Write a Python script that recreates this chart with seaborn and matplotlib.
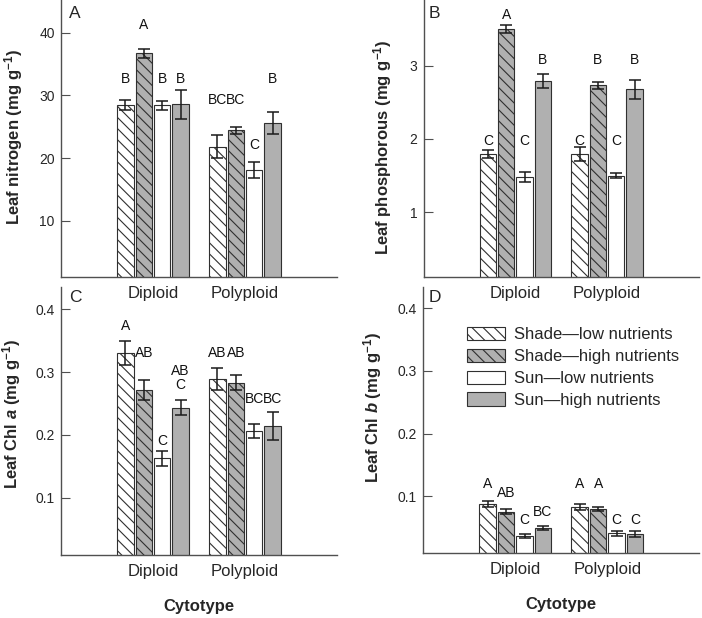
import numpy as np
import pandas as pd
import seaborn as sns
import matplotlib
matplotlib.use("Agg")
import matplotlib.pyplot as plt
import matplotlib.patches as mpatches

# ---------------- data ----------------
cytotypes = ["Diploid", "Polyploid"]
treatments = ["Shade\u2014low nutrients", "Shade\u2014high nutrients",
              "Sun\u2014low nutrients", "Sun\u2014high nutrients"]

# values per treatment: [Diploid, Polyploid]
nitrogen_mean = [[28.4, 21.8], [36.7, 24.4], [28.4, 18.1], [28.6, 25.6]]
nitrogen_se = [[0.8, 1.85], [0.75, 0.5], [0.7, 1.3], [2.3, 1.8]]
nitrogen_letters = [["B", "BC"], ["A", "BC"], ["B", "C"], ["B", "B"]]
nitrogen_letter_y = [[31.9, 28.6], [40.55, 28.6], [31.9, 21.4], [31.9, 31.9]]

phos_mean = [[1.795, 1.795], [3.50, 2.733], [1.477, 1.50], [2.79, 2.678]]
phos_se = [[0.055, 0.10], [0.055, 0.05], [0.07, 0.03], [0.09, 0.127]]
phos_letters = [["C", "C"], ["A", "B"], ["C", "C"], ["B", "B"]]
phos_letter_y = [[1.918, 1.918], [3.63, 3.02], [1.918, 1.918], [3.02, 3.02]]

chla_mean = [[0.331, 0.289], [0.271, 0.283], [0.163, 0.206], [0.243, 0.214]]
chla_se = [[0.019, 0.017], [0.016, 0.012], [0.012, 0.011], [0.012, 0.022]]
chla_letters = [["A", "AB"], ["AB", "AB"], ["C", "BC"], ["AB\nC", "BC"]]
chla_letter_y = [[0.367, 0.3245], [0.3245, 0.3245], [0.184, 0.2503], [0.2726, 0.2503]]

chlb_mean = [[0.088, 0.0835], [0.0755, 0.080], [0.0373, 0.0415], [0.0495, 0.040]]
chlb_se = [[0.005, 0.005], [0.004, 0.003], [0.003, 0.004], [0.003, 0.005]]
chlb_letters = [["A", "A"], ["AB", "A"], ["C", "C"], ["BC", "C"]]
chlb_letter_y = [[0.1128, 0.1128], [0.0994, 0.1128], [0.0559, 0.0559], [0.0687, 0.0559]]

# ---------------- style ----------------
sns.set_style("white")
plt.rcParams["font.family"] = ["Liberation Sans", "DejaVu Sans"]
plt.rcParams["mathtext.fontset"] = "custom"
plt.rcParams["mathtext.rm"] = "Liberation Sans"
plt.rcParams["mathtext.it"] = "Liberation Sans:italic"
plt.rcParams["mathtext.bf"] = "Liberation Sans:bold"
plt.rcParams["mathtext.bfit"] = "Liberation Sans:bold:italic"
plt.rcParams["hatch.linewidth"] = 0.8

fills = ["#ffffff", "#b0b0b0", "#ffffff", "#b0b0b0"]
hatches = ["\\\\\\", "\\\\\\", "", ""]
edge = "#303030"
spine_col = "#505050"

W, H = 702, 618
fig = plt.figure(figsize=(W / 100, H / 100), dpi=100)
fig.patch.set_facecolor("white")


def rect(left, right, top, bottom):
    return [left / W, 1 - bottom / H, (right - left) / W, (bottom - top) / H]


panels = [
    dict(pos=rect(61, 337, 0, 277.3), mean=nitrogen_mean, se=nitrogen_se,
         let=nitrogen_letters, ly=nitrogen_letter_y, ylim=(0.98, 45.2),
         yticks=[10, 20, 30, 40], yfmt="{:.0f}",
         ylabel=r"Leaf nitrogen (mg g$^{\mathbf{-1}}$)", lab="A",
         ylc=(-0.13, 0.506), plab=(0.030, 0.934), xlabel=False),
    dict(pos=rect(423.7, 698.7, 0, 277.3), mean=phos_mean, se=phos_se,
         let=phos_letters, ly=phos_letter_y, ylim=(0.113, 3.896),
         yticks=[1, 2, 3], yfmt="{:.0f}",
         ylabel=r"Leaf phosphorous (mg g$^{\mathbf{-1}}$)", lab="B",
         ylc=(-0.107, 0.468), plab=(0.019, 0.934), xlabel=False),
    dict(pos=rect(61, 337, 287, 555), mean=chla_mean, se=chla_se,
         let=chla_letters, ly=chla_letter_y, ylim=(0.0088, 0.4355),
         yticks=[0.1, 0.2, 0.3, 0.4], yfmt="{:.1f}",
         ylabel=r"Leaf Chl $\mathbfit{a}$ (mg g$^{\mathbf{-1}}$)", lab="C",
         ylc=(-0.137, 0.526), plab=(0.031, 0.945), xlabel=True),
    dict(pos=rect(423.3, 699.3, 287, 553.3), mean=chlb_mean, se=chlb_se,
         let=chlb_letters, ly=chlb_letter_y, ylim=(0.0093, 0.4335),
         yticks=[0.1, 0.2, 0.3, 0.4], yfmt="{:.1f}",
         ylabel=r"Leaf Chl $\mathbfit{b}$ (mg g$^{\mathbf{-1}}$)", lab="D",
         ylc=(-0.141, 0.546), plab=(0.020, 0.945), xlabel=True),
]

for p in panels:
    ax = fig.add_axes(p["pos"])
    rows = []
    for ti, t in enumerate(treatments):
        for ci, c in enumerate(cytotypes):
            rows.append({"Cytotype": c, "Treatment": t, "value": p["mean"][ti][ci]})
    df = pd.DataFrame(rows)
    sns.barplot(data=df, x="Cytotype", y="value", hue="Treatment",
                order=cytotypes, hue_order=treatments, palette=fills,
                saturation=1, width=0.8, gap=0.1, errorbar=None,
                edgecolor=edge, linewidth=0.8, legend=False, ax=ax)
    bar_conts = list(ax.containers)
    for ti, cont in enumerate(bar_conts):
        xs = []
        for bar in cont.patches:
            bar.set_hatch(hatches[ti])
            bar.set_edgecolor(edge)
            xs.append(bar.get_x() + bar.get_width() / 2)
        ax.errorbar(xs, p["mean"][ti], yerr=p["se"][ti], fmt="none",
                    ecolor="#1a1a1a", elinewidth=1.1, capsize=4.6,
                    capthick=1.1, zorder=5)
        for ci, x in enumerate(xs):
            ax.text(x, p["ly"][ti][ci], p["let"][ti][ci], ha="center",
                    va="baseline", fontsize=10, linespacing=1.03,
                    color="#111111")
    ax.set_xlim(-1, 2)
    ax.set_ylim(*p["ylim"])
    ax.set_yticks(p["yticks"])
    ax.set_yticklabels([p["yfmt"].format(v) for v in p["yticks"]])
    ax.tick_params(axis="y", direction="in", length=6.5, width=0.8,
                   color=spine_col, labelsize=10, pad=4.5, left=True)
    ax.tick_params(axis="x", length=0, labelsize=12, pad=6.3)
    for s in ["top", "right"]:
        ax.spines[s].set_visible(False)
    for s in ["left", "bottom"]:
        ax.spines[s].set_color(spine_col)
        ax.spines[s].set_linewidth(1.0)
    ax.set_ylabel(p["ylabel"], fontsize=12, fontweight="bold")
    ax.yaxis.set_label_coords(*p["ylc"])
    if p["xlabel"]:
        ax.set_xlabel("Cytotype", fontsize=12, fontweight="bold")
        ax.xaxis.set_label_coords(0.5, -0.163)
    else:
        ax.set_xlabel("")
    ax.text(p["plab"][0], p["plab"][1], p["lab"], transform=ax.transAxes,
            ha="left", va="baseline", fontsize=12.5)
    ax.patch.set_visible(False)

# legend in panel D
handles = [mpatches.Patch(facecolor=fills[i], edgecolor=edge, hatch=hatches[i],
                          linewidth=0.8, label=treatments[i]) for i in range(4)]
fig.legend(handles=handles, loc="upper left",
           bbox_to_anchor=(467 / W, 1 - 327 / H), bbox_transform=fig.transFigure,
           frameon=False, fontsize=12, borderpad=0, borderaxespad=0,
           handlelength=2.3, handleheight=0.85, labelspacing=0.38,
           handletextpad=0.55)

fig.savefig("out.png", dpi=100, facecolor="white")
